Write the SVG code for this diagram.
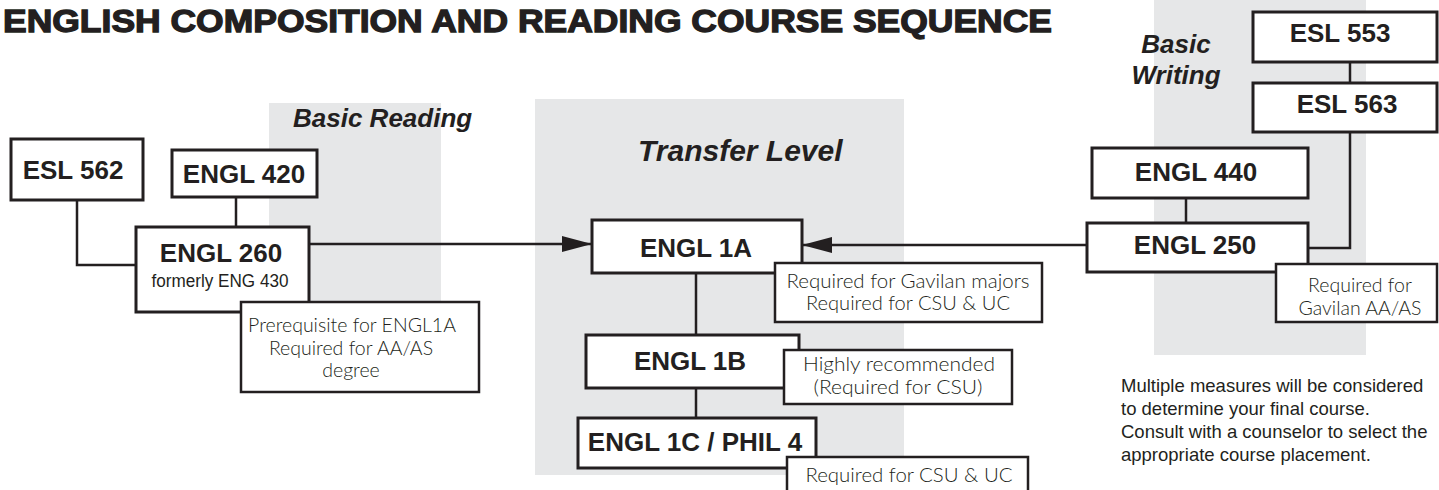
<svg xmlns="http://www.w3.org/2000/svg" width="1439" height="490" viewBox="0 0 1439 490">
<defs>
<style>
.panel{fill:#e6e7e8}
.box{fill:#fff;stroke:#231f20;stroke-width:3}
.note{fill:#fff;stroke:#231f20;stroke-width:2.5}
.lbl{font-family:"Liberation Sans",Arial,sans-serif;font-weight:bold;font-size:26px;fill:#231f20;text-anchor:middle}
.sub{font-family:"Liberation Sans",Arial,sans-serif;font-size:18px;fill:#231f20;text-anchor:middle}
.nt{font-family:Lato,"Open Sans",sans-serif;font-weight:300;font-size:19.5px;fill:#231f20;text-anchor:middle}
.hd{font-family:"Liberation Sans",Arial,sans-serif;font-weight:bold;font-style:italic;fill:#231f20}
.foot{font-family:"Liberation Sans",Arial,sans-serif;font-size:18.5px;fill:#231f20}
.ln{fill:none;stroke:#231f20;stroke-width:2.5}
</style>
<marker id="ah" viewBox="0 0 30 16" refX="30" refY="8" markerWidth="30" markerHeight="16" markerUnits="userSpaceOnUse" orient="auto">
<path d="M0,0 L30,8 L0,16 Z" fill="#231f20"/>
</marker>
</defs>
<rect width="1439" height="490" fill="#fff"/>
<text x="3" y="32" font-family="Liberation Sans,Arial,sans-serif" font-weight="900" font-size="32" fill="#231f20" stroke="#231f20" stroke-width="1.3" textLength="1049" lengthAdjust="spacingAndGlyphs">ENGLISH COMPOSITION AND READING COURSE SEQUENCE</text>
<g id="panels">
<rect class="panel" x="269" y="103" width="172" height="272"/>
<rect class="panel" x="535" y="99" width="369" height="376"/>
<rect class="panel" x="1154" y="0" width="212" height="355"/>
</g>
<g id="headings">
<text class="hd" x="293" y="127" font-size="26">Basic Reading</text>
<text class="hd" x="638" y="161" font-size="30">Transfer Level</text>
<text class="hd" x="1176" y="53" font-size="26" text-anchor="middle">Basic</text>
<text class="hd" x="1176" y="84" font-size="26" text-anchor="middle">Writing</text>
</g>
<g id="connectors">
<polyline class="ln" points="77,200 77,265 136,265"/>
<line class="ln" x1="236" y1="197" x2="236" y2="227"/>
<line class="ln" x1="309" y1="244" x2="592" y2="244" marker-end="url(#ah)"/>
<line class="ln" x1="1087" y1="245" x2="802" y2="245" marker-end="url(#ah)"/>
<line class="ln" x1="696" y1="273" x2="696" y2="335"/>
<line class="ln" x1="696" y1="388" x2="696" y2="418"/>
<line class="ln" x1="1350" y1="62" x2="1350" y2="83"/>
<polyline class="ln" points="1350,132 1350,248 1308,248"/>
<line class="ln" x1="1186" y1="198" x2="1186" y2="223"/>
</g>
<g id="esl562"><rect class="box" x="11" y="139" width="132" height="61"/><text class="lbl" x="73" y="179">ESL 562</text></g>
<g id="engl420"><rect class="box" x="172" y="150" width="145" height="47"/><text class="lbl" x="244" y="183">ENGL 420</text></g>
<g id="engl260"><rect class="box" x="136" y="227" width="173" height="85"/><text class="lbl" x="221" y="262">ENGL 260</text><text class="sub" x="220" y="287" textLength="137" lengthAdjust="spacingAndGlyphs">formerly ENG 430</text></g>
<g id="note260"><rect class="note" x="241" y="302" width="238" height="90"/><text class="nt" x="352" y="332">Prerequisite for ENGL1A</text><text class="nt" x="351" y="354.5">Required for AA/AS</text><text class="nt" x="351" y="377">degree</text></g>
<g id="engl1a"><rect class="box" x="592" y="220" width="210" height="53"/><text class="lbl" x="696" y="257">ENGL 1A</text></g>
<g id="note1a"><rect class="note" x="775" y="263" width="267" height="59"/><text class="nt" x="908" y="288" textLength="243" lengthAdjust="spacingAndGlyphs">Required for Gavilan majors</text><text class="nt" x="908" y="310" textLength="204" lengthAdjust="spacingAndGlyphs">Required for CSU &amp; UC</text></g>
<g id="engl1b"><rect class="box" x="586" y="335" width="213" height="53"/><text class="lbl" x="690" y="370">ENGL 1B</text></g>
<g id="note1b"><rect class="note" x="784" y="350" width="228" height="54"/><text class="nt" x="899" y="371" textLength="192" lengthAdjust="spacingAndGlyphs">Highly recommended</text><text class="nt" x="898" y="393.5" textLength="169" lengthAdjust="spacingAndGlyphs">(Required for CSU)</text></g>
<g id="engl1c"><rect class="box" x="578" y="418" width="238" height="50"/><text class="lbl" x="695" y="451">ENGL 1C / PHIL 4</text></g>
<g id="note1c"><rect class="note" x="787" y="457" width="241" height="40"/><text class="nt" x="909" y="482" textLength="207" lengthAdjust="spacingAndGlyphs">Required for CSU &amp; UC</text></g>
<g id="esl553"><rect class="box" x="1253" y="12" width="184" height="50"/><text class="lbl" x="1340" y="42">ESL 553</text></g>
<g id="esl563"><rect class="box" x="1253" y="83" width="184" height="49"/><text class="lbl" x="1347" y="113">ESL 563</text></g>
<g id="engl440"><rect class="box" x="1092" y="148" width="216" height="50"/><text class="lbl" x="1196" y="181">ENGL 440</text></g>
<g id="engl250"><rect class="box" x="1087" y="223" width="221" height="49"/><text class="lbl" x="1195" y="254">ENGL 250</text></g>
<g id="note250"><rect class="note" x="1276" y="264" width="161" height="58"/><text class="nt" x="1360" y="292">Required for</text><text class="nt" x="1360" y="315">Gavilan AA/AS</text></g>
<g id="footnote">
<text class="foot" x="1121" y="392">Multiple measures will be considered</text>
<text class="foot" x="1121" y="415">to determine your final course.</text>
<text class="foot" x="1121" y="438">Consult with a counselor to select the</text>
<text class="foot" x="1121" y="461">appropriate course placement.</text>
</g>
</svg>
